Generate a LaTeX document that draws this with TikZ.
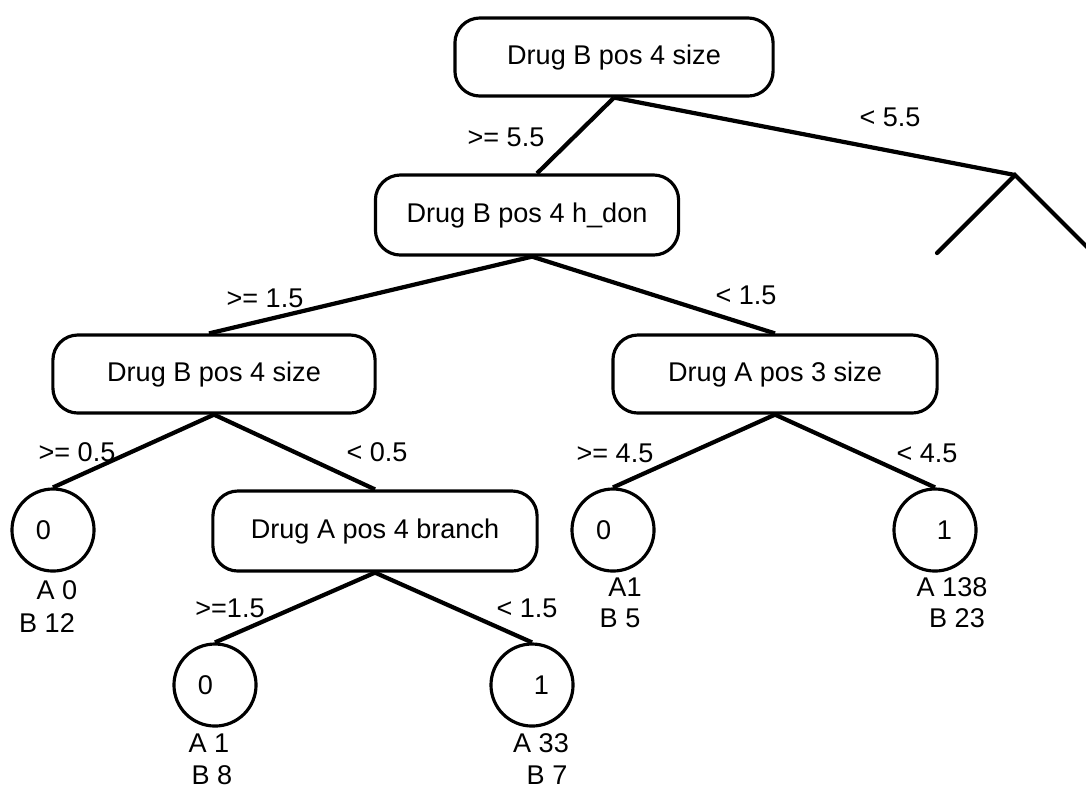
\documentclass[tikz,border=0pt]{standalone}
\usepackage{fontspec}
\setmainfont{Liberation Sans}
\usetikzlibrary{positioning}
\tikzstyle{split} = [rectangle, draw, rounded corners=0.25cm, minimum width=3.24cm, minimum height=0.78cm, line width=0.9pt]
\tikzstyle{leaf} = [circle, draw, minimum size=0.82cm, inner sep=0pt, text width=0.34cm, line width=0.9pt]
\tikzstyle{leafzero} = [leaf, align=left]
\tikzstyle{leafone} = [leaf, align=right]
\tikzstyle{edge} = [line width=1.2pt]

\begin{document}
\begin{tikzpicture}[x=0.01cm, y=-0.01cm, font=\fontsize{7.7}{9}\selectfont]
    \useasboundingbox (0,0) rectangle (1086,787);

    % Split nodes
    \node[split, minimum width=3.18cm] (root) at (614,57) {Drug B pos 4 size};
    \node[split, minimum width=3.03cm, minimum height=0.8cm] (hdon) at (527,215) {Drug B pos 4 h\_don};
    \node[split, minimum width=3.22cm] (bsize) at (214,374) {Drug B pos 4 size};
    \node[split] (apos3) at (775,374) {Drug A pos 3 size};
    \node[split, minimum height=0.8cm] (abranch) at (375,531) {Drug A pos 4 branch};

    % Leaves
    \node[leafzero] (leafa) at (53,530) {0};
    \node[leafzero] (leafb) at (215,685) {0};
    \node[leafone] (leafc) at (532,685) {1};
    \node[leafzero] (leafd) at (613,530) {0};
    \node[leafone] (leafe) at (935,530) {1};

    % Right subtree, cut off
    \coordinate (rsplit) at (1015,175);
    \coordinate (rleft) at (937,253);
    \coordinate (rright) at (1093,253);

    % Branches
    \draw[edge] (root.south) -- ([xshift=0.1cm]hdon.north);
    \draw[edge] (root.south) -- (rsplit);
    \draw[edge, line cap=round] (rleft) -- (rsplit) -- (rright);
    \draw[edge] ([xshift=0.05cm]hdon.south) -- ([xshift=-0.05cm]bsize.north);
    \draw[edge] ([xshift=0.05cm]hdon.south) -- (apos3.north);
    \draw[edge] (bsize.south) -- (leafa.north);
    \draw[edge] (bsize.south) -- (abranch.north);
    \draw[edge] (abranch.south) -- (leafb.north);
    \draw[edge] (abranch.south) -- (leafc.north);
    \draw[edge] (apos3.south) -- (leafd.north);
    \draw[edge] (apos3.south) -- (leafe.north);

    % Split values
    \node (ge55) at (506,137) {>= 5.5};
    \node (lt55) at (890,117) {< 5.5};
    \node (ge15) at (265,298) {>= 1.5};
    \node (lt15) at (746,295) {< 1.5};
    \node (ge05) at (77,452) {>= 0.5};
    \node (lt05) at (377,452) {< 0.5};
    \node (ge15b) at (230,608) {>=1.5};
    \node (lt15b) at (527,608) {< 1.5};
    \node (ge45) at (615,453) {>= 4.5};
    \node (lt45) at (927,453) {< 4.5};

    % Class counts
    \node (cnta0) at (57,590) {A 0};
    \node (cntb12) at (47,623) {B 12};
    \node (cnta1) at (209,743) {A 1};
    \node (cntb8) at (212,775) {B 8};
    \node (cnta33) at (541,743) {A 33};
    \node (cntb7) at (547,775) {B 7};
    \node (cnta1b) at (625,587) {A1};
    \node (cntb5) at (620,618) {B 5};
    \node (cnta138) at (952,587) {A 138};
    \node (cntb23) at (957,618) {B 23};
\end{tikzpicture}
\end{document}
